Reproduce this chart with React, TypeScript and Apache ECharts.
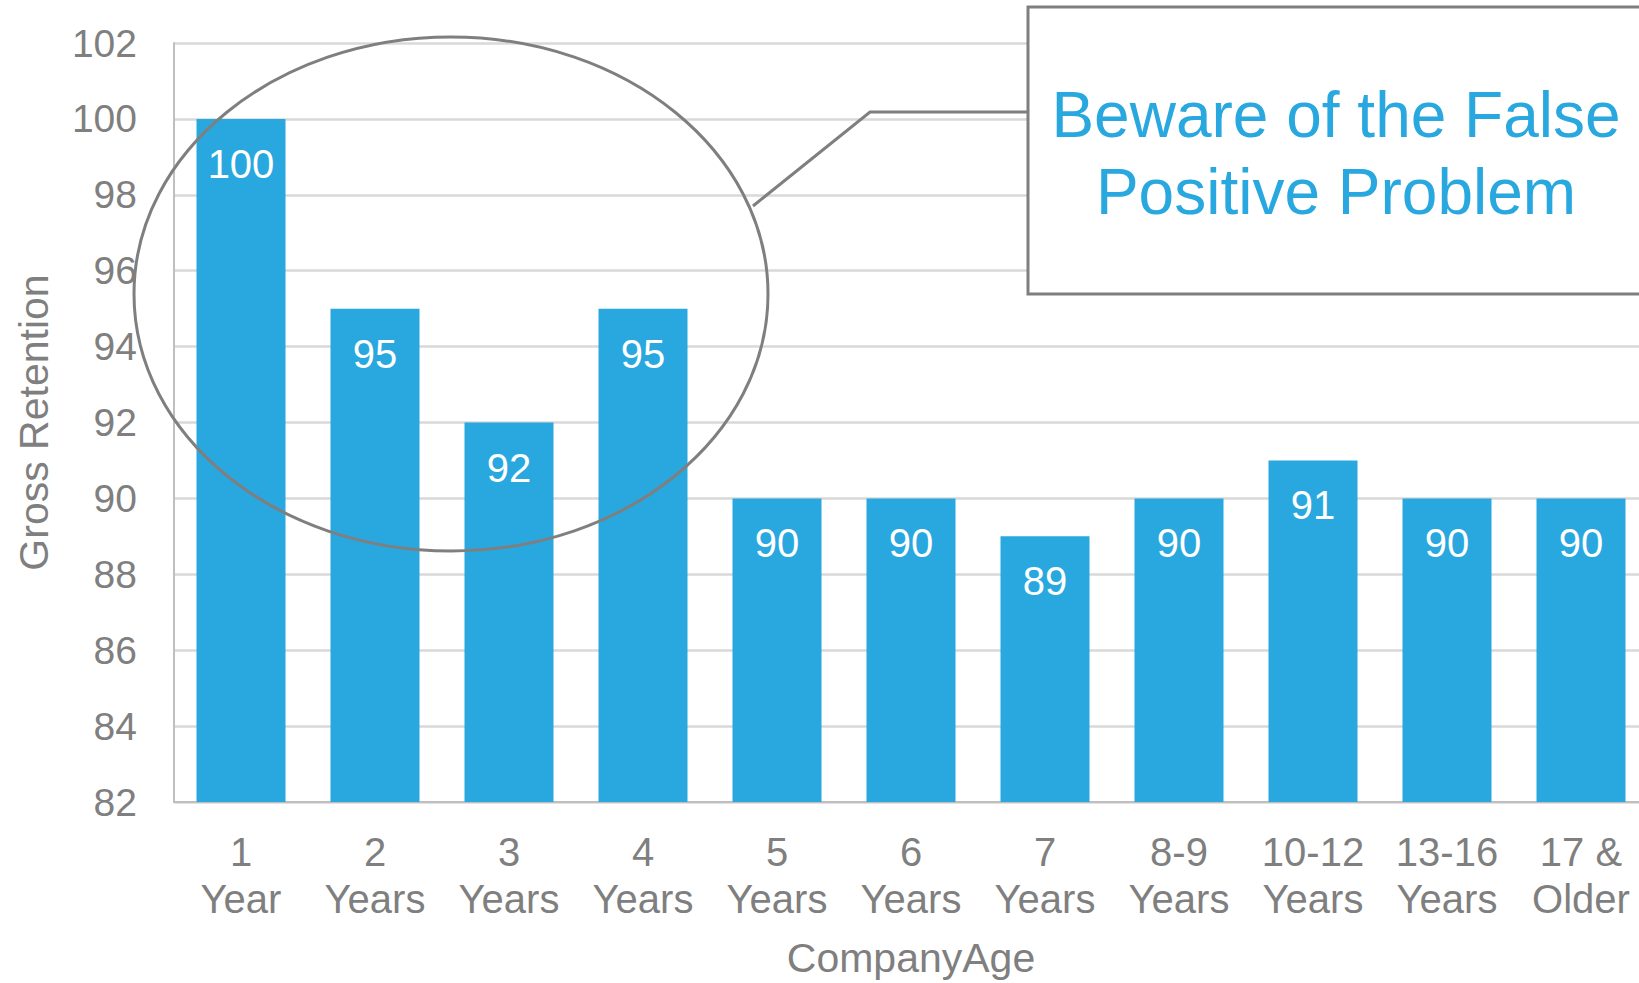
import React, { useEffect, useRef } from "react";
import * as echarts from "echarts";

// Gross retention by company age
const categories = [
  "1\nYear",
  "2\nYears",
  "3\nYears",
  "4\nYears",
  "5\nYears",
  "6\nYears",
  "7\nYears",
  "8-9\nYears",
  "10-12\nYears",
  "13-16\nYears",
  "17 &\nOlder",
];
const retention = [100, 95, 92, 95, 90, 90, 89, 90, 91, 90, 90];

const yMin = 82;
const yMax = 102;
const yStep = 2;

const xAxisTitle = "CompanyAge";
const yAxisTitle = "Gross Retention";
const calloutText = "Beware of the False\nPositive Problem";

const BLUE = "#29A8E0";
const GRAY = "#7F7F7F";
const FONT = "Liberation Sans, Arial, sans-serif";

export default function App() {
  const ref = useRef<HTMLDivElement>(null);

  useEffect(() => {
    if (!ref.current) return;
    const chart = echarts.init(ref.current, undefined, { renderer: "svg" });

    chart.setOption({
      animation: false,
      backgroundColor: "#ffffff",
      textStyle: { fontFamily: FONT },
      grid: { left: 174, right: 0, top: 43, bottom: 177, containLabel: false },
      xAxis: {
        type: "category",
        data: categories,
        name: xAxisTitle,
        nameLocation: "middle",
        nameGap: 135,
        nameTextStyle: { color: GRAY, fontSize: 41, fontFamily: FONT },
        axisLine: { show: true, lineStyle: { color: "#BFBFBF", width: 2 } },
        axisTick: { show: false },
        axisLabel: {
          color: GRAY,
          fontSize: 40,
          lineHeight: 47,
          margin: 26,
          interval: 0,
          fontFamily: FONT,
        },
      },
      yAxis: {
        type: "value",
        min: yMin,
        max: yMax,
        interval: yStep,
        name: yAxisTitle,
        nameLocation: "middle",
        nameRotate: 90,
        nameGap: 120,
        nameTextStyle: { color: GRAY, fontSize: 41, fontFamily: FONT },
        axisLine: { show: true, lineStyle: { color: "#BFBFBF", width: 2 } },
        axisTick: { show: false },
        axisLabel: { color: GRAY, fontSize: 39, margin: 37, fontFamily: FONT },
        splitLine: { show: true, lineStyle: { color: "#D9D9D9", width: 2.5 } },
      },
      series: [
        {
          type: "bar",
          data: retention,
          barWidth: 89,
          itemStyle: { color: BLUE },
          label: {
            show: true,
            position: "insideTop",
            distance: 25,
            color: "#ffffff",
            fontSize: 40,
            fontFamily: FONT,
          },
          z: 2,
        },
      ],
      graphic: [
        {
          type: "ellipse",
          shape: { cx: 451, cy: 294, rx: 317, ry: 257 },
          style: { fill: "none", stroke: GRAY, lineWidth: 3 },
          z: 100,
        },
        {
          type: "polyline",
          shape: {
            points: [
              [1028, 112],
              [870, 112],
              [753, 206],
            ],
          },
          style: { fill: "none", stroke: GRAY, lineWidth: 3 },
          z: 100,
        },
        {
          type: "rect",
          shape: { x: 1028, y: 7, width: 640, height: 287 },
          style: { fill: "#ffffff", stroke: GRAY, lineWidth: 3 },
          z: 100,
        },
        {
          type: "text",
          x: 1336,
          y: 153,
          style: {
            text: calloutText,
            fill: BLUE,
            fontSize: 64,
            lineHeight: 77,
            fontFamily: FONT,
            align: "center",
            verticalAlign: "middle",
          },
          z: 101,
        },
      ],
    });

    return () => chart.dispose();
  }, []);

  // The chart canvas is slightly wider than the window, so the last column runs off the edge
  return (
    <div
      ref={ref}
      style={{ position: "fixed", left: 0, top: 0, width: 1648, height: 983, background: "#fff" }}
    />
  );
}
